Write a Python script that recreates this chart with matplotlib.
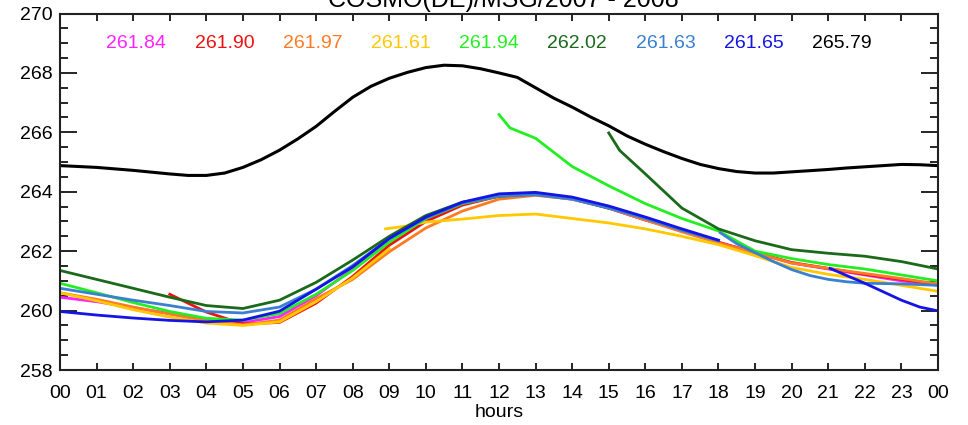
import numpy as np
import matplotlib
matplotlib.use('Agg')
import matplotlib.pyplot as plt

plt.rcParams['font.family'] = ['Liberation Sans', 'DejaVu Sans']

nan = np.nan

# hourly grid 00..24
hours = np.arange(25)

# series on the hourly grid (nan where the run has no value)
magenta = [260.45, 260.30, 260.10, 259.90, 259.70, 259.60, 259.80, 260.50, 261.40, 262.40,
           263.10, 263.60, 263.85, 263.90, 263.75, 263.45, 263.05, 262.70, 262.30, 261.95,
           261.60, 261.40, 261.20, 261.00, 260.85]
red = [nan, nan, nan, 260.55, 259.95, 259.55, 259.60, 260.25, 261.15, 262.20,
       263.00, 263.55, 263.85, 263.92, 263.78, 263.45, 263.05, 262.70, 262.30, 261.95,
       261.62, 261.42, 261.22, 261.05, 260.88]
orange = [260.60, 260.38, 260.12, 259.88, 259.65, 259.52, 259.68, 260.40, 261.05, 261.98,
          262.78, 263.35, 263.75, 263.88, 263.75, 263.45, 263.05, 262.65, 262.28, 261.95,
          261.60, 261.42, 261.25, 261.08, 260.90]
yellow = [260.60, 260.33, 260.03, 259.78, 259.58, 259.50, 259.62, 260.30, 261.10, 262.08,
          nan, nan, nan, nan, nan, nan, nan, nan, nan, nan, nan, nan, nan, nan, nan]
green = [260.92, 260.60, 260.27, 259.97, 259.74, 259.68, 259.90, 260.55, 261.35, 262.30,
         263.10, 263.60, 263.85, nan, nan, nan, nan, nan, nan, nan, nan, nan, nan, nan, nan]
dkgreen = [261.35, 261.05, 260.75, 260.45, 260.17, 260.07, 260.35, 260.95, 261.70, 262.50,
           263.20, 263.65, 263.85, 263.92, 263.78, 263.45, nan, nan, nan, nan, nan, nan,
           nan, nan, nan]
ltblue = [260.75, 260.55, 260.35, 260.17, 259.97, 259.92, 260.12, 260.72, 261.52, 262.42,
          263.12, 263.62, 263.85, 263.90, 263.75, 263.45, 263.10, 262.70, 262.35, nan,
          nan, nan, nan, nan, nan]
blue = [259.97, 259.85, 259.75, 259.67, 259.62, 259.68, 259.98, 260.72, 261.47, 262.43,
        263.15, 263.65, 263.93, 263.98, 263.82, 263.52, 263.15, 262.75, 262.37, nan,
        nan, nan, nan, nan, nan]

# black read every half hour
black_h = np.arange(0, 24.5, 0.5)
black = [264.88, 264.85, 264.82, 264.77, 264.72, 264.66, 264.60, 264.55, 264.55, 264.63,
         264.82, 265.08, 265.40, 265.78, 266.20, 266.70, 267.18, 267.55, 267.82, 268.02,
         268.18, 268.26, 268.24, 268.14, 268.00, 267.85, 267.50, 267.15, 266.85, 266.52,
         266.22, 265.88, 265.60, 265.35, 265.12, 264.92, 264.78, 264.68, 264.63, 264.63,
         264.67, 264.71, 264.75, 264.80, 264.84, 264.88, 264.92, 264.91, 264.88]

# later runs starting inside the day
yellow2_h = [8.9, 9.5, 10, 11, 12, 13, 14, 15, 16, 17, 18, 19, 20, 21, 22, 23, 24]
yellow2 = [262.75, 262.85, 262.98, 263.08, 263.20, 263.25, 263.10, 262.95, 262.75, 262.50,
           262.22, 261.85, 261.45, 261.22, 261.05, 260.85, 260.65]
green2_h = [12.0, 12.3, 13, 14, 15, 16, 17, 18, 19, 20, 21, 22, 23, 24]
green2 = [266.60, 266.15, 265.80, 264.85, 264.20, 263.60, 263.10, 262.68, 262.00, 261.75,
          261.55, 261.40, 261.20, 261.00]
dkgreen2_h = [15.0, 15.3, 16, 17, 18, 19, 20, 21, 22, 23, 24]
dkgreen2 = [265.98, 265.39, 264.60, 263.45, 262.75, 262.35, 262.05, 261.93, 261.83, 261.65, 261.40]
ltblue2_h = [18.05, 18.5, 19, 19.5, 20, 20.5, 21, 21.5, 22, 23, 24]
ltblue2 = [262.62, 262.25, 261.95, 261.65, 261.38, 261.18, 261.05, 260.97, 260.92, 260.90, 260.85]
blue2_h = [21.05, 22, 23, 23.5, 24]
blue2 = [261.42, 260.92, 260.35, 260.12, 259.99]

means = ['261.84', '261.90', '261.97', '261.61', '261.94', '262.02', '261.63', '261.65', '265.79']
colors = ['#ff22ff', '#ee1111', '#ff7a22', '#ffc800', '#22ee22', '#1a6a1a', '#3a80d0', '#1414e6', '#000000']
xlabels = ['%02d' % h for h in range(24)] + ['00']

fig = plt.figure(figsize=(9.68, 4.25), dpi=100)
ax = fig.add_axes([0.062, 0.1294, 0.907, 0.8388])

lw = 2.0
ax.plot(hours, magenta, color=colors[0], lw=lw)
ax.plot(hours, red, color=colors[1], lw=lw)
ax.plot(hours, orange, color=colors[2], lw=lw)
ax.plot(hours, yellow, color=colors[3], lw=lw)
ax.plot(yellow2_h, yellow2, color=colors[3], lw=lw)
ax.plot(hours, green, color=colors[4], lw=lw)
ax.plot(green2_h, green2, color=colors[4], lw=lw)
ax.plot(hours, dkgreen, color=colors[5], lw=lw)
ax.plot(dkgreen2_h, dkgreen2, color=colors[5], lw=lw)
ax.plot(hours, ltblue, color=colors[6], lw=lw)
ax.plot(ltblue2_h, ltblue2, color=colors[6], lw=lw)
ax.plot(hours, blue, color=colors[7], lw=lw)
ax.plot(blue2_h, blue2, color=colors[7], lw=lw)
ax.plot(black_h, black, color=colors[8], lw=2.2)

for i, (m, c) in enumerate(zip(means, colors)):
    ax.text(0.0867 + 0.1005 * i, 0.915, m, color=c, fontsize=14,
            ha='center', va='center', transform=ax.transAxes)

ax.set_xlim(0, 24)
ax.set_ylim(258, 270)
ax.set_xticks(hours)
ax.set_xticklabels(xlabels)
ax.set_yticks(np.arange(258, 271, 2))
ax.set_yticks(np.arange(258, 270.1, 0.5), minor=True)
ax.tick_params(axis='x', which='major', direction='in', length=5, width=1.2,
               top=True, labelsize=14, pad=11)
ax.tick_params(axis='y', which='major', direction='in', length=12, width=1.2,
               right=True, labelsize=14, pad=5)
ax.tick_params(axis='y', which='minor', direction='in', length=6, width=1.2, right=True)
for s in ax.spines.values():
    s.set_linewidth(1.5)
    s.set_color('#222222')
ax.set_xlabel('hours', fontsize=14, labelpad=1)

# title sits partly above the top edge, as in the source image
fig.text(0.52, 0.983, 'COSMO(DE)/MSG/2007 - 2008', fontsize=18, ha='center', va='baseline')

fig.savefig('out.png', dpi=100)
